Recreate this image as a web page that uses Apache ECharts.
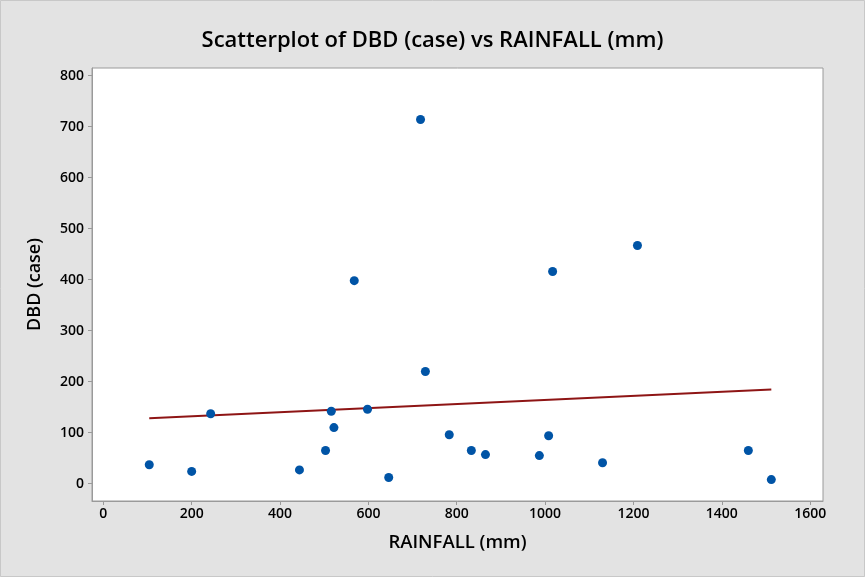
<!DOCTYPE html>
<html>
<head>
<meta charset="utf-8">
<script src="https://cdn.jsdelivr.net/npm/echarts@6/dist/echarts.min.js"></script>
<style>html,body{margin:0;padding:0;background:#e3e3e3;}#c{width:865px;height:577px;}</style>
</head>
<body>
<div id="c"></div>
<script>
const rainfall = [104,200,243,444,503,516,522,568,598,646,718,729,783,833,865,987,1008,1017,1130,1209,1460,1512];
const dbd      = [37,24,137,27,65,142,110,398,146,12,714,220,96,65,57,55,94,416,41,467,65,8];
const xTicks = [0,200,400,600,800,1000,1200,1400,1600];
const yTicks = [0,100,200,300,400,500,600,700,800];

const points = rainfall.map((x,i)=>[x,dbd[i]]);
// least-squares fit
const n = rainfall.length;
const mx = rainfall.reduce((a,b)=>a+b,0)/n;
const my = dbd.reduce((a,b)=>a+b,0)/n;
let sxy=0,sxx=0;
for(let i=0;i<n;i++){sxy+=(rainfall[i]-mx)*(dbd[i]-my);sxx+=(rainfall[i]-mx)**2;}
const slope = sxy/sxx, icpt = my - slope*mx;
const xmin = Math.min(...rainfall), xmax = Math.max(...rainfall);
const fit = [[xmin, icpt+slope*xmin],[xmax, icpt+slope*xmax]];

const font = 'Open Sans';
const chart = echarts.init(document.getElementById('c'));
chart.setOption({
  backgroundColor:'#e3e3e3',
  animation:false,
  title:{text:'Scatterplot of DBD (case) vs RAINFALL (mm)',left:'center',top:25,
    textStyle:{fontFamily:font,fontSize:22,fontWeight:600,color:'#000'}},
  graphic:[{type:'rect',shape:{x:0.5,y:0.5,width:864,height:576},style:{fill:'none',stroke:'#c8c8c8',lineWidth:1},silent:true,z:-1}],
  grid:{left:92,right:42,top:68,bottom:76,show:true,backgroundColor:'#fff',borderColor:'#9a9a9a',borderWidth:1,containLabel:false,outerBoundsMode:'none'},
  xAxis:{type:'value',min:-25.6,max:1629,
    name:'RAINFALL (mm)',nameLocation:'middle',nameGap:32,
    nameTextStyle:{fontFamily:font,fontSize:18.5,fontWeight:600,color:'#000'},
    axisLine:{show:true,onZero:false,lineStyle:{color:'#9a9a9a'}},
    axisTick:{show:true,length:4,lineStyle:{color:'#9a9a9a'},customValues:xTicks},
    axisLabel:{customValues:xTicks,formatter:v=>String(v),fontFamily:font,fontSize:14,fontWeight:600,color:'#000',margin:6},
    splitLine:{show:false}},
  yAxis:{type:'value',min:-34,max:815,
    name:'DBD (case)',nameLocation:'middle',nameGap:48,
    nameTextStyle:{fontFamily:font,fontSize:18,fontWeight:600,color:'#000'},
    axisLine:{show:true,onZero:false,lineStyle:{color:'#9a9a9a'}},
    axisTick:{show:true,length:4,lineStyle:{color:'#9a9a9a'},customValues:yTicks},
    axisLabel:{customValues:yTicks,formatter:v=>String(v),fontFamily:font,fontSize:14,fontWeight:600,color:'#000',margin:8},
    splitLine:{show:false}},
  series:[
    {type:'line',data:fit,showSymbol:false,lineStyle:{color:'#8e1515',width:2},z:2},
    {type:'scatter',data:points,symbol:'circle',symbolSize:9,itemStyle:{color:'#0054a6',opacity:1},z:3}
  ]
});
</script>
</body>
</html>
